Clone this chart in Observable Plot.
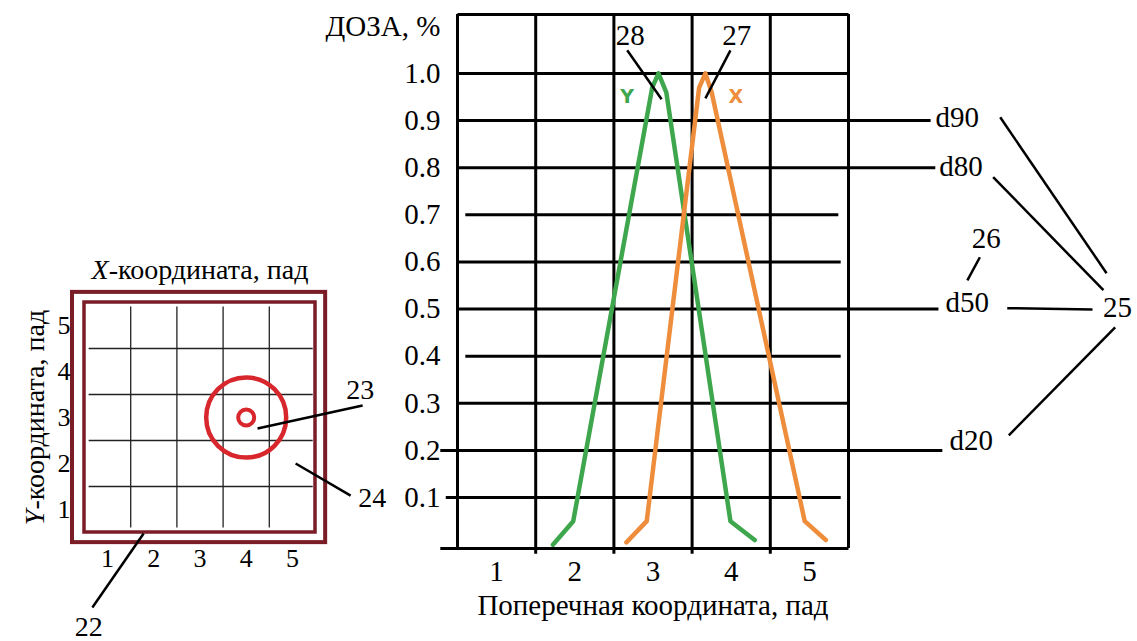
<!DOCTYPE html>
<html><head><meta charset="utf-8">
<script src="https://cdn.jsdelivr.net/npm/d3@7"></script>
<script src="https://cdn.jsdelivr.net/npm/@observablehq/plot@0.6"></script>
<style>
body{margin:0;background:#fff;}
#wrap{position:relative;width:1137px;height:641px;overflow:hidden;background:#fff;}
#wrap svg{position:absolute;left:0;top:0;background:transparent !important;}
</style></head><body><div id="wrap"></div>
<script>
// ---------- data ----------
const padTicks = [1, 2, 3, 4, 5];
const doseTicks = [0.1, 0.2, 0.3, 0.4, 0.5, 0.6, 0.7, 0.8, 0.9, 1.0];
const colTicks = [1, 2, 3, 4, 5];
const colBounds = [1.5, 2.5, 3.5, 4.5];

// dose profile along Y (green) and X (orange)
const profY_x = [1.72, 1.98, 2.99, 3.07, 3.17, 3.99, 4.30];
const profY_v = [0.00, 0.05, 0.97, 1.00, 0.96, 0.05, 0.01];
const profX_x = [2.66, 2.92, 3.59, 3.67, 3.75, 4.94, 5.21];
const profX_v = [0.005, 0.05, 0.97, 1.00, 0.96, 0.05, 0.01];

// horizontal grid (dose) lines with drawn extents (hand-drawn figure)
const hLevel = [1.125, 1.0, 0.9, 0.8, 0.7, 0.6, 0.5, 0.4, 0.3, 0.2, 0.1, -0.008];
const hFrom  = [0.5, 0.5, 0.5, 0.5, 0.6, 0.5, 0.5, 0.6, 0.5, 0.28, 0.35, 0.28];
const hTo    = [5.5, 5.5, 6.55, 6.61, 5.37, 5.4, 6.65, 5.4, 5.5, 6.7, 5.4, 5.5];

// reference labels d90/d80/d50/d20, 25, 26, 27, 28
const refText = ["d90", "d80", "26", "d50", "25", "d20", "28", "27"];
const refX    = [6.89, 6.94, 7.26, 7.02, 8.94, 7.07, 2.71, 4.07];
const refY    = [0.905, 0.803, 0.650, 0.514, 0.502, 0.221, 1.081, 1.081];
const leadX1 = [7.44, 7.35, 7.53, 7.55, 7.02, 2.67, 3.99];
const leadY1 = [0.907, 0.780, 0.502, 0.232, 0.561, 1.049, 1.049];
const leadX2 = [8.80, 8.76, 8.62, 8.91, 7.18, 3.11, 3.67];
const leadY2 = [0.576, 0.540, 0.499, 0.461, 0.610, 0.945, 0.947];

// pad matrix: beam spot centre, labels 22/23/24
const spot = {x: 4, y: 3};
const padRefText = ["23", "24", "22"];
const padRefX = [6.47, 6.73, 0.59];
const padRefY = [3.59, 1.24, -1.55];
const padLeadX1 = [4.245, 5.07, 1.78];
const padLeadY1 = [2.76, 2.00, 0.48];
const padLeadX2 = [6.52, 6.26, 0.67];
const padLeadY2 = [3.26, 1.30, -1.13];

// ---------- build ----------
const SERIF = "Liberation Serif";
const green = "#3ea64c", orange = "#ee8d3c", maroon = "#7a1d26", red = "#d8262d";

const zip = (a, b) => a.map((v, i) => ({x: v, y: b[i]}));
const curveG = zip(profY_x, profY_v);
const curveO = zip(profX_x, profX_v);
const hLines = hLevel.map((v, i) => ({y: v, x1: hFrom[i], x2: hTo[i]}));
const refs = refText.map((t, i) => ({t, x: refX[i], y: refY[i]}));
const leads = leadX1.map((v, i) => ({x1: v, y1: leadY1[i], x2: leadX2[i], y2: leadY2[i]}));
const padRefs = padRefText.map((t, i) => ({t, x: padRefX[i], y: padRefY[i]}));
const padLeads = padLeadX1.map((v, i) => ({x1: v, y1: padLeadY1[i], x2: padLeadX2[i], y2: padLeadY2[i]}));

const main = Plot.plot({
  width: 1137, height: 641,
  marginLeft: 457, marginRight: 289, marginTop: 14, marginBottom: 93,
  x: {domain: [0.5, 5.5]},
  y: {domain: [-0.008, 1.125]},
  style: {fontFamily: SERIF, fontSize: "28px", color: "#000", overflow: "visible"},
  marks: [
    Plot.link(hLines, {x1: "x1", x2: "x2", y1: "y", y2: "y", stroke: "#000", strokeWidth: 3}),
    Plot.ruleX([0.5, 5.5], {y1: -0.008, y2: 1.125, stroke: "#000", strokeWidth: 3}),
    Plot.ruleX(colBounds, {y1: -0.02, y2: 1.125, stroke: "#000", strokeWidth: 3}),
    Plot.line(curveG, {x: "x", y: "y", stroke: green, strokeWidth: 4.5, strokeLinejoin: "round"}),
    Plot.line(curveO, {x: "x", y: "y", stroke: orange, strokeWidth: 4.5, strokeLinejoin: "round"}),
    Plot.link(leads, {x1: "x1", y1: "y1", x2: "x2", y2: "y2", stroke: "#000", strokeWidth: 2.5}),
    Plot.text(refs, {x: "x", y: "y", text: "t", fontSize: 29, fill: "#000", fontFamily: SERIF}),
    Plot.text(["Y"], {x: 2.67, y: 0.95, fill: green, fontSize: 19, fontWeight: "bold", fontFamily: "DejaVu Sans"}),
    Plot.text(["X"], {x: 4.06, y: 0.95, fill: orange, fontSize: 19, fontWeight: "bold", fontFamily: "DejaVu Sans"}),
    Plot.text(["ДОЗА, %"], {x: 0.28, y: 1.10, textAnchor: "end", fontSize: 29, fill: "#000", fontFamily: SERIF}),
    Plot.text(["Поперечная координата, пад"], {frameAnchor: "bottom", dy: 57, lineAnchor: "middle", fontSize: 29, fill: "#000", fontFamily: SERIF}),
    Plot.axisY(doseTicks, {tickSize: 0, tickPadding: 17, tickFormat: d => d.toFixed(1), fontSize: 29, label: null, fontFamily: SERIF}),
    Plot.axisX(colTicks, {tickSize: 0, tickPadding: 12, fontSize: 29, label: null, fontFamily: SERIF})
  ]
});

const pad = Plot.plot({
  width: 420, height: 641,
  marginLeft: 84, marginRight: 105, marginTop: 302, marginBottom: 109,
  x: {domain: [0.5, 5.5]},
  y: {domain: [0.5, 5.5]},
  style: {fontFamily: SERIF, fontSize: "24px", color: "#000", overflow: "visible"},
  marks: [
    Plot.ruleX(colBounds, {y1: 0.6, y2: 5.4, stroke: "#222", strokeWidth: 1.3}),
    Plot.ruleY(colBounds, {x1: 0.6, x2: 5.45, stroke: "#222", strokeWidth: 1.3}),
    Plot.rect([{x1: 0.24, x2: 5.72, y1: 0.28, y2: 5.72}], {x1: "x1", x2: "x2", y1: "y1", y2: "y2", fill: "none", stroke: maroon, strokeWidth: 4}),
    Plot.rect([{x1: 0.5, x2: 5.5, y1: 0.5, y2: 5.5}], {x1: "x1", x2: "x2", y1: "y1", y2: "y2", fill: "none", stroke: maroon, strokeWidth: 3.5}),
    Plot.dot([spot], {x: "x", y: "y", r: 40, stroke: red, strokeWidth: 4.5, fill: "none"}),
    Plot.dot([spot], {x: "x", y: "y", r: 8, stroke: red, strokeWidth: 4, fill: "none"}),
    Plot.link(padLeads, {x1: "x1", y1: "y1", x2: "x2", y2: "y2", stroke: "#000", strokeWidth: 2.5}),
    Plot.text(padRefs, {x: "x", y: "y", text: "t", fontSize: 28, fill: "#000", fontFamily: SERIF}),
    Plot.text(["X-координата, пад"], {frameAnchor: "top", dy: -32, lineAnchor: "middle", fontSize: 28, fill: "#000", fontFamily: SERIF}),
    Plot.text(["Y-координата, пад"], {frameAnchor: "left", dx: -49, rotate: -90, textAnchor: "middle", lineAnchor: "middle", fontSize: 28, fill: "#000", fontFamily: SERIF}),
    Plot.axisX(padTicks, {tickSize: 0, tickPadding: 16, fontSize: 26, label: null, fontFamily: SERIF}),
    Plot.axisY(padTicks, {tickSize: 0, tickPadding: 14, fontSize: 26, label: null, fontFamily: SERIF})
  ]
});

const wrap = document.getElementById("wrap");
wrap.appendChild(pad);
wrap.appendChild(main);

// italic axis letter in the pad titles
pad.querySelectorAll("text").forEach(t => {
  const s = t.textContent;
  if (s === "X-координата, пад" || s === "Y-координата, пад") {
    const letter = s[0], rest = s.slice(1);
    t.textContent = "";
    const a = document.createElementNS("http://www.w3.org/2000/svg", "tspan");
    a.setAttribute("font-style", "italic"); a.textContent = letter;
    const b = document.createElementNS("http://www.w3.org/2000/svg", "tspan");
    b.textContent = rest;
    t.appendChild(a); t.appendChild(b);
  }
});
</script>
</body></html>
